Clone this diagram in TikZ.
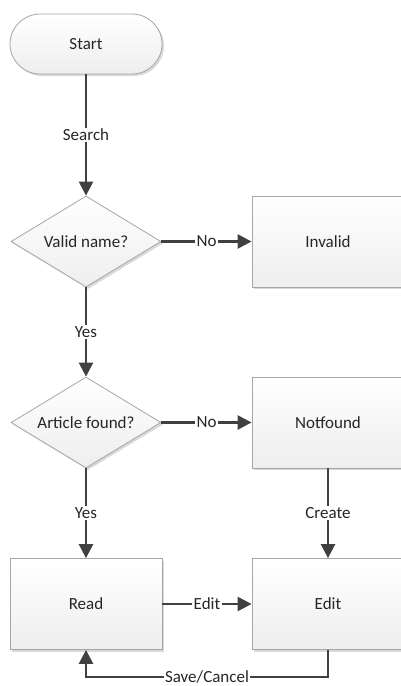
\documentclass[tikz,border=0pt]{standalone}
\usepackage{fontspec}
\setmainfont{Carlito}
\usetikzlibrary{shapes.geometric,arrows.meta,shadows}
\definecolor{lineC}{HTML}{404040}
\definecolor{borderC}{HTML}{A6A6A6}
\definecolor{fillB}{HTML}{EEEEEE}
\tikzset{
  shapebase/.style={draw=borderC, line width=0.8pt, top color=white, bottom color=fillB,
    drop shadow={shadow xshift=2pt, shadow yshift=-2pt, opacity=0.25, fill=black!60},
    font=\fontsize{17}{20}\selectfont, inner sep=0pt, text=black!85},
  terminal/.style={shapebase, rectangle, rounded corners=30pt, minimum width=152pt, minimum height=60pt},
  decision/.style={shapebase, diamond, aspect=1.65, minimum width=150pt, minimum height=91pt},
  process/.style={shapebase, rectangle, minimum width=152pt, minimum height=91pt},
  flow/.style={draw=lineC, line width=2.5pt, -{Triangle[length=14pt,width=14pt]}},
  lbl/.style={fill=white, inner sep=1.5pt, font=\fontsize{17}{20}\selectfont, text=black!85}
}
\begin{document}
\begin{tikzpicture}[x=1pt,y=1pt]
\useasboundingbox (0,0) rectangle (401,-686);
\node[terminal] (start) at (86,-44) {Start};
\node[decision] (d1) at (86,-241.5) {Valid name?};
\node[process] (invalid) at (328,-241.5) {Invalid};
\node[decision] (d2) at (86,-422.5) {Article found?};
\node[process] (notfound) at (328,-422.5) {Notfound};
\node[process] (read) at (86,-604) {Read};
\node[process] (edit) at (328,-604) {Edit};
\coordinate (c1) at (328,-677);
\coordinate (c2) at (86,-677);
\draw[flow] (start) -- node[lbl] {Search} (d1);
\draw[flow] (d1) -- node[lbl] {No} (invalid);
\draw[flow] (d1) -- node[lbl] {Yes} (d2);
\draw[flow] (d2) -- node[lbl] {No} (notfound);
\draw[flow] (d2) -- node[lbl] {Yes} (read);
\draw[flow] (notfound) -- node[lbl] {Create} (edit);
\draw[flow] (read) -- node[lbl] {Edit} (edit);
\draw[flow] (edit.south) -- (c1) -- node[lbl] {Save/Cancel} (c2) -- (read.south);
\end{tikzpicture}
\end{document}
